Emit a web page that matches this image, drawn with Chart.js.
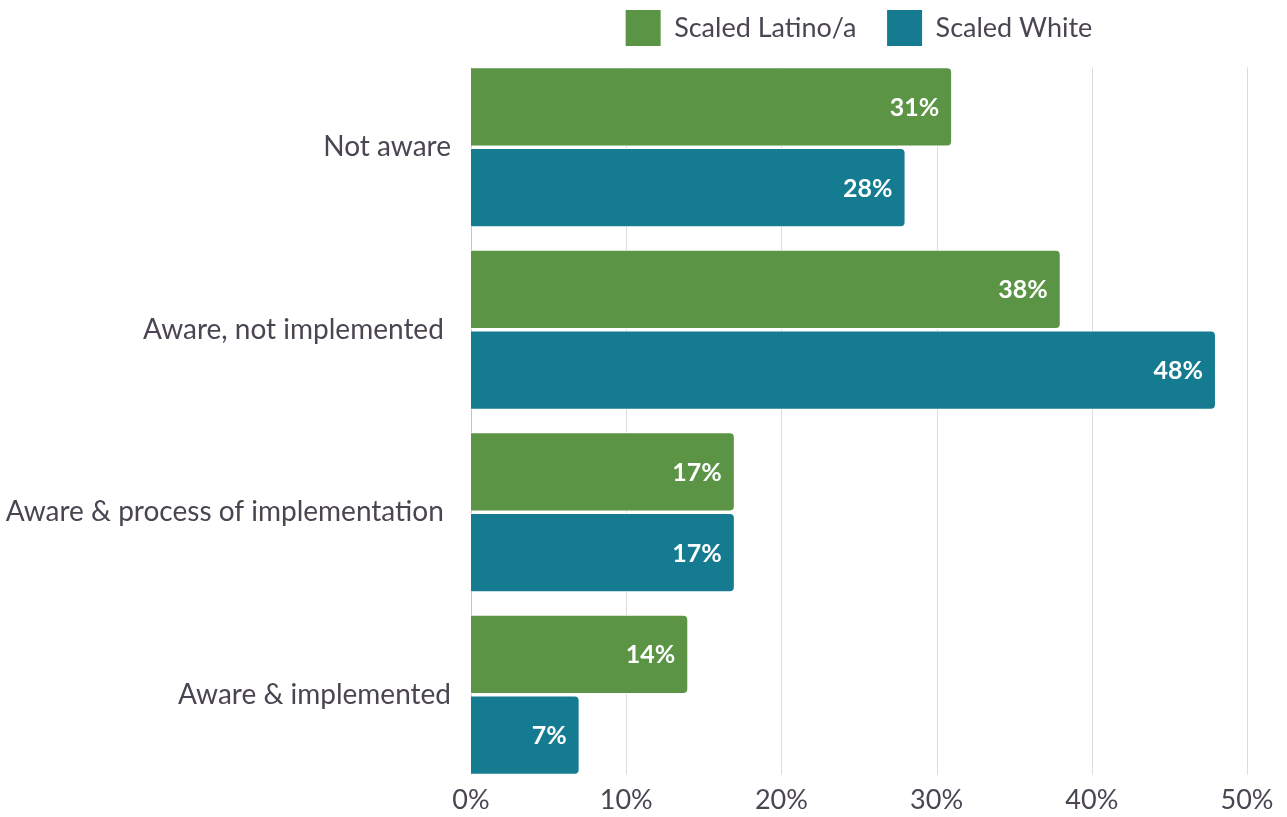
<!DOCTYPE html>
<html>
<head>
<meta charset="utf-8">
<script src="https://cdn.jsdelivr.net/npm/chart.js@4.4.1/dist/chart.umd.min.js"></script>
<style>
  html, body { margin: 0; padding: 0; background: #fff; }
  #wrap { width: 1287px; height: 817px; }
</style>
</head>
<body>
<div id="wrap"><canvas id="barChart"></canvas></div>
<script>
// categories (trailing spaces as in the source labels)
var categories = ["Not aware", "Aware, not implemented ", "Aware & process of implementation ", "Aware & implemented"];
var latinoValues = [31, 38, 17, 14];
var whiteValues = [28, 48, 17, 7];
var xTicks = [0, 10, 20, 30, 40, 50];

var textColor = "#4b4552";
var fontFamily = "Lato, 'Noto Sans', sans-serif";

// light grid only over the bar span
var gridPlugin = {
    id: "shortGrid",
    beforeDatasetsDraw: function (chart) {
        var ctx = chart.ctx;
        var x = chart.scales.x;
        var first = chart.getDatasetMeta(0).data[0];
        var last = chart.getDatasetMeta(1).data[categories.length - 1];
        var top = first.y - first.height / 2;
        var bottom = last.y + last.height / 2;
        ctx.save();
        xTicks.forEach(function (v, i) {
            var px = Math.round(x.getPixelForValue(v)) + 0.5;
            ctx.strokeStyle = i === 0 ? "#c4c4c8" : "#dcdcdc";
            ctx.lineWidth = 1;
            ctx.beginPath();
            ctx.moveTo(px, top);
            ctx.lineTo(px, bottom);
            ctx.stroke();
        });
        ctx.restore();
    }
};

// white value labels inside bar ends
var valueLabels = {
    id: "valueLabels",
    afterDatasetsDraw: function (chart) {
        var ctx = chart.ctx;
        ctx.save();
        ctx.fillStyle = "#ffffff";
        ctx.font = "bold 25px " + fontFamily;
        ctx.textAlign = "right";
        ctx.textBaseline = "middle";
        chart.data.datasets.forEach(function (ds, di) {
            chart.getDatasetMeta(di).data.forEach(function (bar, i) {
                ctx.fillText(ds.data[i] + "%", bar.x - 13, bar.y + 1);
            });
        });
        ctx.restore();
    }
};

var ctx = document.getElementById("barChart").getContext("2d");
var chart = new Chart(ctx, {
    type: "bar",
    data: {
        labels: categories,
        datasets: [
            {
                label: "Scaled Latino/a",
                data: latinoValues,
                backgroundColor: "#5b9444",
                borderColor: "#ffffff",
                borderWidth: 1,
                borderRadius: 5,
                borderSkipped: "start"
            },
            {
                label: "Scaled White",
                data: whiteValues,
                backgroundColor: "#147b91",
                borderColor: "#ffffff",
                borderWidth: 1,
                borderRadius: 5,
                borderSkipped: "start"
            }
        ]
    },
    options: {
        indexAxis: "y",
        responsive: true,
        maintainAspectRatio: false,
        animation: false,
        categoryPercentage: 0.885,
        barPercentage: 0.98,
        layout: { padding: { left: 0, right: 40, top: 0, bottom: 0 } },
        plugins: {
            tooltip: { enabled: false },
            legend: {
                position: "top",
                fullSize: false,
                labels: {
                    color: textColor,
                    font: { family: fontFamily, size: 27 },
                    boxWidth: 35,
                    boxHeight: 36,
                    padding: 10,
                    generateLabels: function (chart) {
                        var items = Chart.defaults.plugins.legend.labels.generateLabels(chart);
                        items[0].text = items[0].text + "   ";
                        items.forEach(function (it) { it.lineWidth = 0; });
                        return items;
                    }
                }
            }
        },
        scales: {
            x: {
                min: 0,
                max: 50,
                afterBuildTicks: function (scale) {
                    scale.ticks = xTicks.map(function (v) { return { value: v }; });
                },
                afterFit: function (scale) { scale.height = 31; },
                grid: { display: false, drawTicks: false },
                border: { display: false },
                ticks: {
                    color: textColor,
                    font: { family: fontFamily, size: 27 },
                    padding: -2,
                    callback: function (v) { return v + "%"; }
                }
            },
            y: {
                afterFit: function (scale) {
                    scale.width = 471;
                    scale.paddingTop = 0;
                    scale.paddingBottom = 0;
                },
                grid: { display: false, drawTicks: false },
                border: { display: false },
                ticks: {
                    color: textColor,
                    font: { family: fontFamily, size: 28 },
                    padding: 20
                }
            }
        }
    },
    plugins: [gridPlugin, valueLabels]
});
</script>
</body>
</html>
